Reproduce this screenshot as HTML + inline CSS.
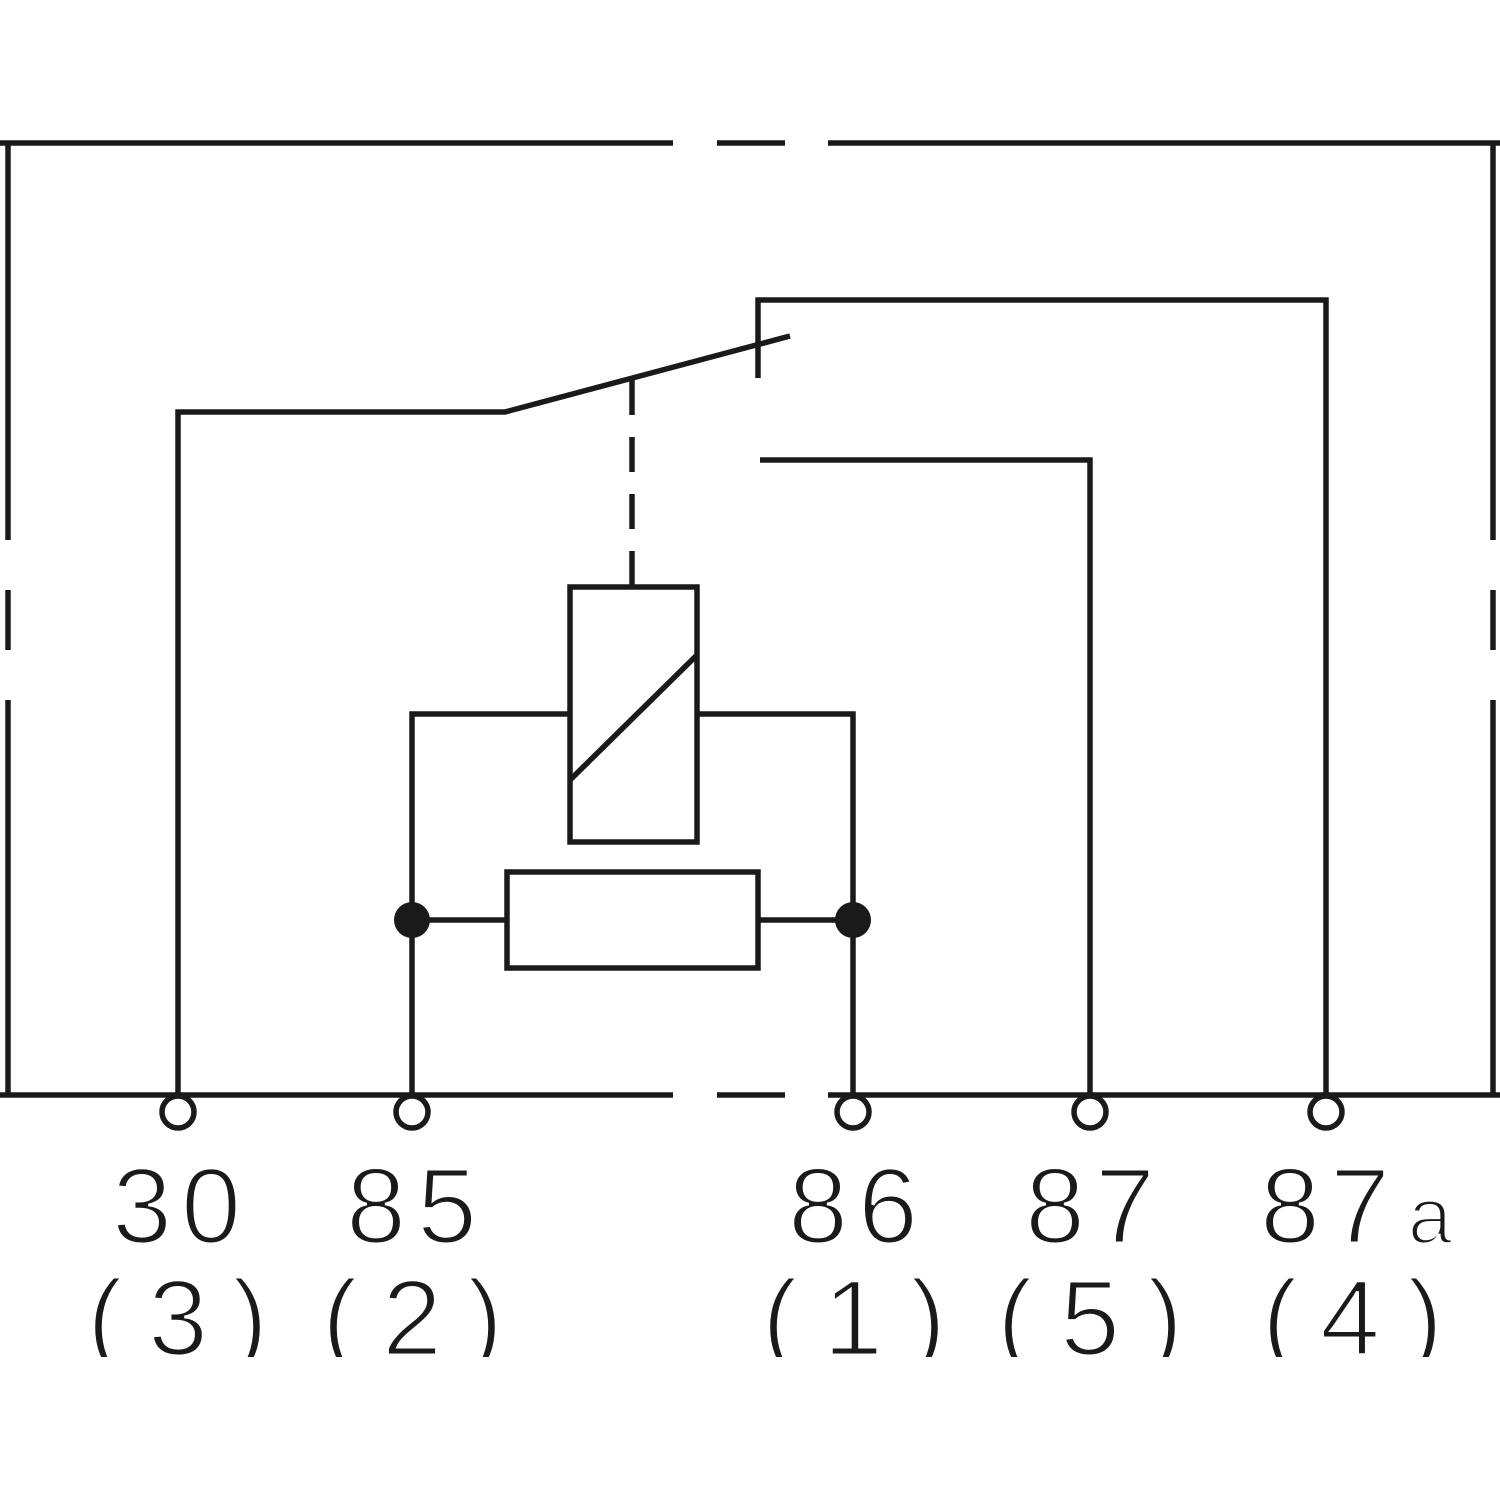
<!DOCTYPE html>
<html><head><style>html,body{margin:0;padding:0;background:#fff}</style></head>
<body>
<svg width="1500" height="1500" viewBox="0 0 1500 1500" xmlns="http://www.w3.org/2000/svg">
<g stroke="#1a1a1a" stroke-width="5.5" fill="none">
<path d="M0 143H673M717 143H785M828 143H1500"/>
<path d="M0 1095H673M717 1095H785M828 1095H1500"/>
<path d="M8 143V540M8 590V650M8 700V1095"/>
<path d="M1493 143V540M1493 590V650M1493 700V1095"/>
<path d="M178 1095V412H505L790 336"/>
<path d="M632 380V585" stroke-dasharray="35,22"/>
<path d="M758 378V300H1326V1095"/>
<path d="M760 460H1090V1095"/>
<rect x="570" y="587" width="127" height="255"/>
<path d="M570 780L697 655"/>
<path d="M412 1095V714H570M697 714H853V1095"/>
<rect x="507" y="872" width="251" height="96"/>
<path d="M412 920H507M758 920H853"/>
<g fill="#fff">
<circle cx="178" cy="1112" r="16"/>
<circle cx="412" cy="1112" r="16"/>
<circle cx="853" cy="1112" r="16"/>
<circle cx="1090" cy="1112" r="16"/>
<circle cx="1326" cy="1112" r="16"/>
</g>
</g>
<circle cx="412" cy="920" r="18" fill="#1a1a1a"/>
<circle cx="853" cy="920" r="18" fill="#1a1a1a"/>
<g font-family="Liberation Sans, sans-serif" font-size="108" fill="#1a1a1a" stroke="#fff" stroke-width="3" text-anchor="middle">
<text y="1243" x="142 211">30</text>
<text y="1243" x="376 447">85</text>
<text y="1243" x="818 888">86</text>
<text y="1243" x="1055 1125">87</text>
<text y="1243" x="1290 1360">87</text>
<text y="1243" x="1430" font-size="80">a</text>
<text y="1355" x="105 178 250">(3)</text>
<text y="1355" x="340 412 485">(2)</text>
<text y="1355" x="780 853 928">(1)</text>
<text y="1355" x="1015 1090 1165">(5)</text>
<text y="1355" x="1280 1350 1425">(4)</text>
</g>
<rect x="0" y="1357" width="1500" height="143" fill="#fff"/>
</svg>
</body></html>
